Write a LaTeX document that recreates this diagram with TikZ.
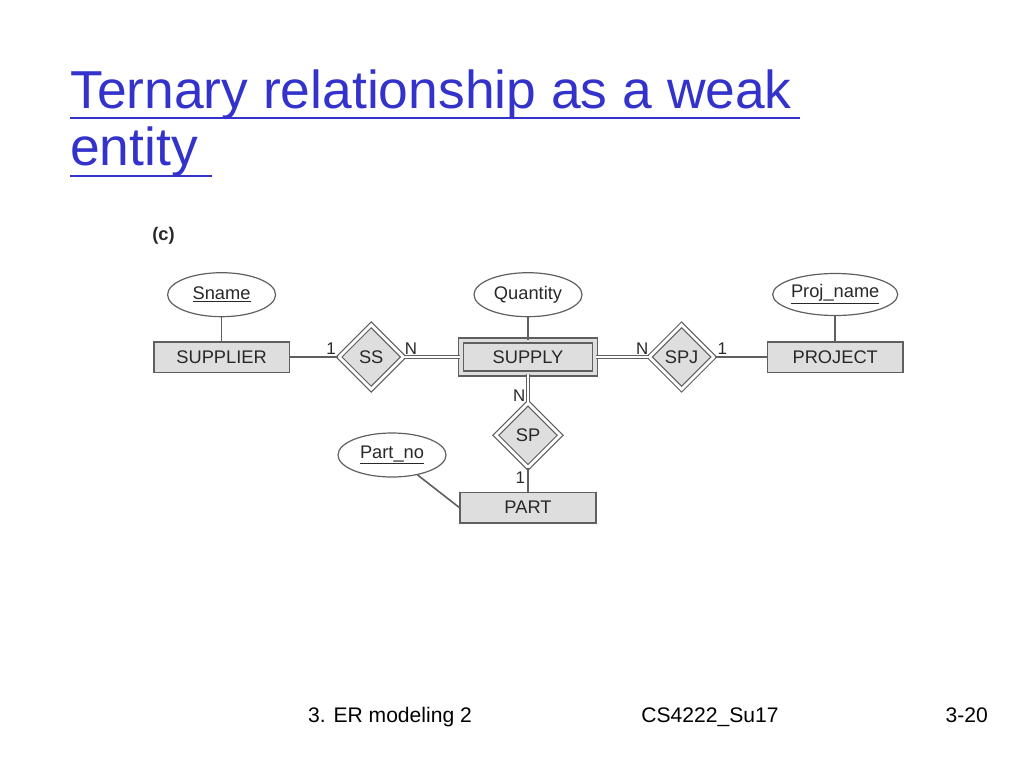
\documentclass[tikz,border=0pt]{standalone}
\usepackage{fontspec}
\setmainfont{Liberation Sans}
\usetikzlibrary{shapes.geometric, positioning, calc}
\definecolor{titleblue}{RGB}{51,51,204}
\definecolor{erfill}{RGB}{222,222,222}
\definecolor{erline}{RGB}{95,95,95}
\definecolor{ertext}{RGB}{40,40,40}
\tikzset{
  entity/.style={draw=erline, fill=erfill, line width=0.4mm, minimum width=33.9mm,
    minimum height=7.65mm, inner sep=0pt, text=ertext, font=\fontsize{13}{15}\selectfont},
  weakentity/.style={entity, double=erfill, double distance=0.8mm,
    minimum width=33.5mm, minimum height=8.25mm},
  attr/.style={ellipse, draw=erline, line width=0.3mm, minimum width=27mm,
    minimum height=11mm, inner sep=0pt, text=ertext, font=\fontsize{13}{15}\selectfont},
  idrel/.style={diamond, aspect=1, draw=erline, fill=erfill, line width=0.3mm,
    double=white, double distance=0.7mm, minimum size=16.2mm, inner sep=0pt,
    text=ertext, font=\fontsize{13}{15}\selectfont},
  single/.style={draw=erline, line width=0.4mm},
  dbl/.style={draw=erline, line width=0.3mm, double=white, double distance=0.6mm},
  card/.style={text=ertext, font=\fontsize{12}{14}\selectfont, inner sep=1.5pt},
  slidetitle/.style={anchor=base west, text=titleblue, font=\fontsize{38}{44}\selectfont, inner sep=0pt},
  titleline/.style={draw=titleblue, line width=0.7mm},
  footer/.style={anchor=base, font=\fontsize{15}{18}\selectfont, inner sep=0pt}
}
\begin{document}
\begin{tikzpicture}[x=0.25mm, y=-0.25mm]
\useasboundingbox (0,0) rectangle (1024,768);
% title
\node[slidetitle] (title1) at (70,108) {Ternary relationship as a weak};
\node[slidetitle] (title2) at (70,165) {entity};
\draw[titleline] ($(title1.base west)+(0,10)$) -- ($(title1.base east)+(8,10)$);
\draw[titleline] ($(title2.base west)+(0,11)$) -- ($(title2.base east)+(14,11)$);
\node[anchor=west, text=ertext, font=\bfseries\fontsize{13}{15}\selectfont, inner sep=0pt] (tag) at (152,236) {(c)};
% entities and relationships
\node[weakentity] (supply) at (528,357) {SUPPLY};
\node[idrel, left=14mm of supply] (ss) {SS};
\node[entity, left=12mm of ss] (supplier) {SUPPLIER};
\node[idrel, right=13.2mm of supply] (spj) {SPJ};
\node[entity, right=13mm of spj] (project) {PROJECT};
\node[idrel, below=7mm of supply] (sp) {SP};
\node[entity, below=5.8mm of sp] (part) {PART};
% attributes
\node[attr, above=5.9mm of supplier] (sname) {\underline{Sname}};
\node[attr, above=5.6mm of supply] (quantity) {Quantity};
\node[attr, above=6.2mm of project, minimum width=26.5mm, minimum height=10.5mm] (projname) {\underline{Proj\_name}};
\node[attr] (partno) at (392,455) {\underline{Part\_no}};
% connectors
\draw[single] (sname) -- (supplier);
\draw[single] (quantity) -- (supply);
\draw[single] (projname) -- (project);
\draw[single] (partno) -- (part.west);
\draw[single] (supplier) -- node[card, pos=0.85, above] {1} (ss);
\draw[dbl] (ss) -- node[card, pos=0.12, above] {N} (supply);
\draw[dbl] (supply) -- node[card, pos=0.88, above] {N} (spj);
\draw[single] (spj) -- node[card, pos=0.15, above] {1} (project);
\draw[dbl] (supply) -- node[card, pos=0.75, left] {N} (sp);
\draw[single] (sp) -- node[card, pos=0.4, left] {1} (part);
% footer
\node[footer] (chapter) at (390,722) {3. ER modeling 2};
\node[footer] (course) at (710,722) {CS4222\_Su17};
\node[footer, anchor=base east] (page) at (988,722) {3-20};
\end{tikzpicture}
\end{document}
